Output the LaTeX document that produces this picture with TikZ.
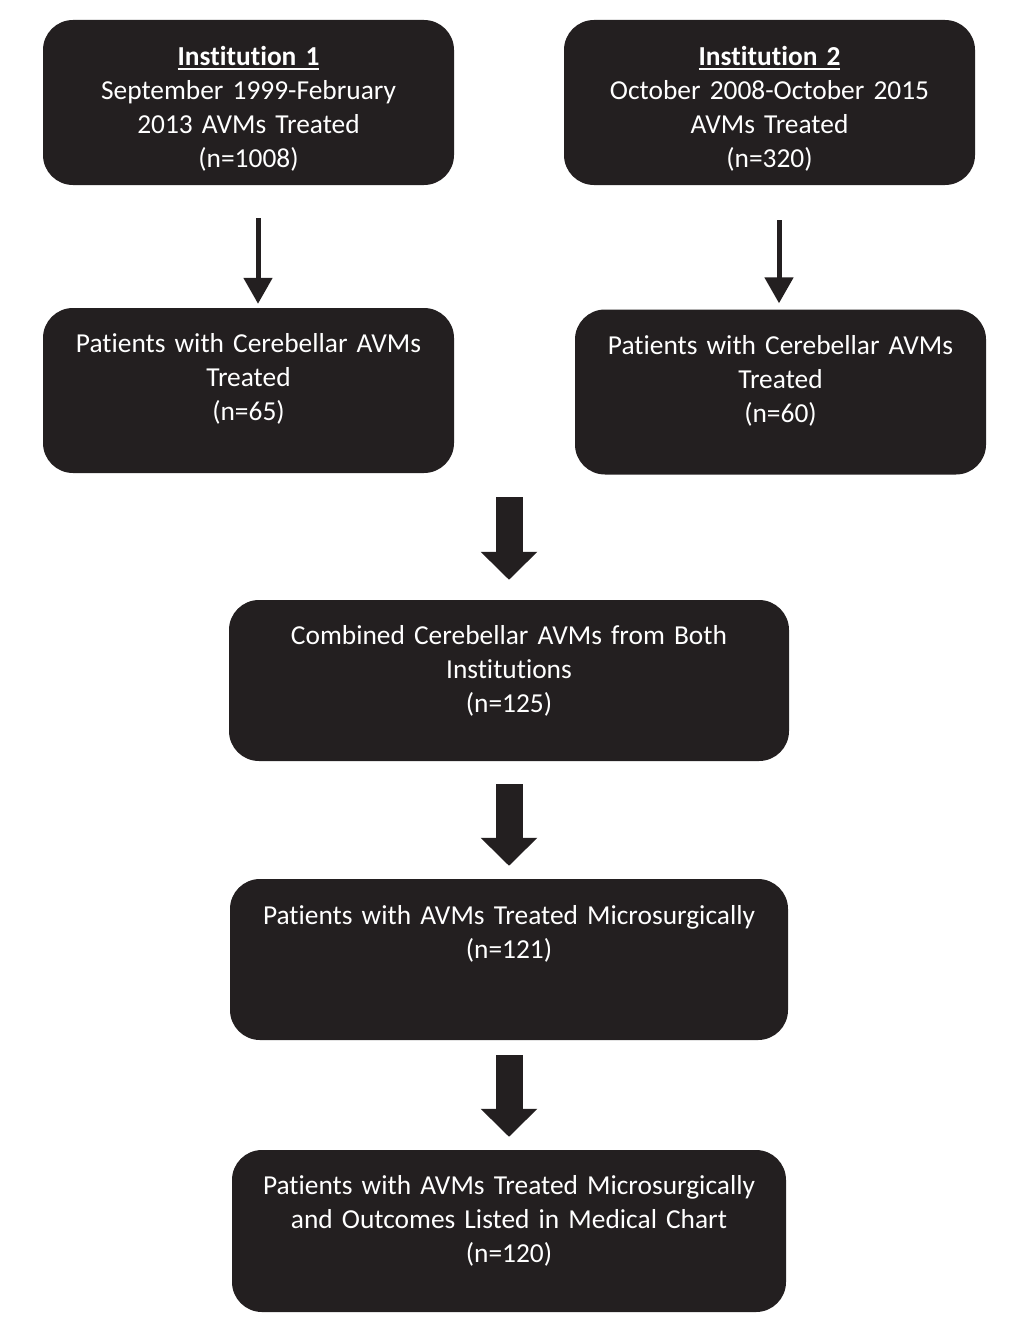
\documentclass[tikz,border=0pt]{standalone}
\usepackage{fontspec}
\setmainfont{Carlito}[Ligatures={NoCommon,NoRare,NoContextual}, RawFeature=-liga, RawFeature=-clig, RawFeature=-calt, RawFeature=-dlig]
\usetikzlibrary{arrows.meta,calc}
\definecolor{boxblack}{HTML}{231F20}
\newcommand\ulbold[1]{\setbox0=\hbox{\bfseries #1}\rlap{\rule[-4.5pt]{\wd0}{2pt}}\box0}
\begin{document}
\begin{tikzpicture}[x=1pt,y=-1pt,
  box/.style={fill=boxblack, draw=none, rounded corners=30pt, inner sep=0pt},
  sidebox/.style={box, minimum width=411pt, minimum height=165pt},
  txt/.style={text=white, align=center, inner sep=0pt, anchor=base,
    font=\fontsize{27.4}{34}\selectfont},
  thinarrow/.style={draw=boxblack, line width=5pt,
    -{Triangle[width=28pt,length=26pt]}},
  thickarrow/.style={draw=boxblack, line width=27pt,
    -{Triangle[width=55pt,length=28pt]}}]
\useasboundingbox (0,0) rectangle (1033,1330);
% boxes
\node[sidebox] (b1) at (248.5,102.5) {};
\node[sidebox] (b2) at (769.5,102.5) {};
\node[sidebox] (b3) at (248.5,390.5) {};
\node[sidebox] (b4) at (780.5,392) {};
\node[box, minimum width=560pt, minimum height=161pt] (b5) at (509,680.5) {};
\node[box, minimum width=558pt, minimum height=161pt] (b6) at (509,959.5) {};
\node[box, minimum width=554pt, minimum height=162pt] (b7) at (509,1231) {};
% texts
\node[txt, text width=400pt] (t1) at ([yshift=-46pt]b1.north)
  {\ulbold{Institution 1}\\September 1999-February\\2013 AVMs Treated\\(n=1008)};
\node[txt, text width=400pt] (t2) at ([yshift=-46pt]b2.north)
  {\ulbold{Institution 2}\\October 2008-October 2015\\AVMs Treated\\(n=320)};
\node[txt, text width=400pt] (t3) at ([yshift=-45pt]b3.north)
  {Patients with Cerebellar AVMs\\Treated\\(n=65)};
\node[txt, text width=400pt] (t4) at ([yshift=-45pt]b4.north)
  {Patients with Cerebellar AVMs\\Treated\\(n=60)};
\node[txt, text width=550pt] (t5) at ([yshift=-45pt]b5.north)
  {Combined Cerebellar AVMs from Both\\Institutions\\(n=125)};
\node[txt, text width=550pt] (t6) at ([yshift=-46pt]b6.north)
  {Patients with AVMs Treated Microsurgically\\(n=121)};
\node[txt, text width=550pt] (t7) at ([yshift=-45pt]b7.north)
  {Patients with AVMs Treated Microsurgically\\and Outcomes Listed in Medical Chart\\(n=120)};
% connectors
\draw[thinarrow, shorten <=33pt, shorten >=4pt]
  ([xshift=9.5pt]b1.south) -- ([xshift=9.5pt]b1.south |- b3.north);
\draw[thinarrow, shorten <=35pt, shorten >=6pt]
  ([xshift=9.5pt]b2.south) -- ([xshift=9.5pt]b2.south |- b4.north);
\coordinate (m) at (b5.north |- b3.south);
\draw[thickarrow, shorten <=24pt, shorten >=20pt] (m) -- (b5.north);
\draw[thickarrow, shorten <=23pt, shorten >=13pt] (b5.south) -- (b6.north);
\draw[thickarrow, shorten <=15pt, shorten >=13pt] (b6.south) -- (b7.north);
\end{tikzpicture}
\end{document}
